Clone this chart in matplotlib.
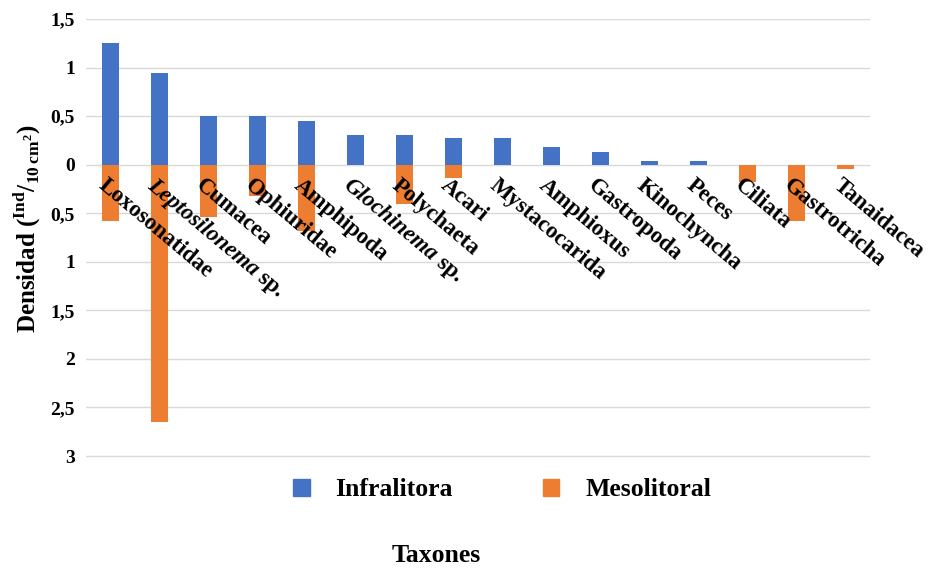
import numpy as np
import matplotlib.pyplot as plt
from matplotlib.ticker import FuncFormatter
from matplotlib.patches import Patch
import matplotlib.transforms as mtransforms

plt.rcParams['font.family'] = 'Liberation Serif'
plt.rcParams['font.weight'] = 'bold'
plt.rcParams['mathtext.fontset'] = 'custom'
plt.rcParams['mathtext.rm'] = 'Liberation Serif:weight=bold'
plt.rcParams['mathtext.bf'] = 'Liberation Serif:weight=bold'

taxa = ["Loxosonatidae", "Leptosilonema sp.", "Cumacea", "Ophiuridae",
        "Amphipoda", "Glochinema sp.", "Polychaeta", "Acari",
        "Mystacocarida", "Amphioxus", "Gastropoda", "Kinochyncha", "Peces",
        "Ciliata", "Gastrotricha", "Tanaidacea"]
infralitoral = [1.25, 0.94, 0.50, 0.50, 0.45, 0.31, 0.31, 0.27,
                0.27, 0.18, 0.13, 0.04, 0.04, 0.0, 0.0, 0.0]
mesolitoral = [0.58, 2.65, 0.54, 0.32, 0.68, 0.0, 0.40, 0.14,
               0.0, 0.0, 0.0, 0.0, 0.0, 0.18, 0.58, 0.04]

BLUE = '#4472C4'
ORANGE = '#ED7D31'
ANGLE = 40
LABEL_SIZE = 16.5

fig = plt.figure(figsize=(9.36, 5.70), dpi=100)
ax = fig.add_axes([86/936, 1 - 458/570, (870 - 86)/936, (458 - 19)/570])

x = np.arange(len(taxa))
ax.bar(x, infralitoral, width=0.33, color=BLUE, zorder=3)
ax.bar(x, -np.array(mesolitoral), width=0.33, color=ORANGE, zorder=3)

ax.set_xlim(-0.5, len(taxa) - 0.5)
ax.set_ylim(-3.02, 1.5)
ax.set_yticks(np.arange(-3.0, 1.51, 0.5))


def fmt(v, pos):
    return f"{abs(v):g}".replace('.', ',')


ax.yaxis.set_major_formatter(FuncFormatter(fmt))
ax.tick_params(axis='y', length=0, labelsize=14, pad=8)
ax.set_xticks([])
ax.grid(axis='y', color='#d9d9d9', linewidth=1.0, zorder=0)
for sp in ax.spines.values():
    sp.set_visible(False)

fig.canvas.draw()
renderer = fig.canvas.get_renderer()


def text_width(s, style):
    t = fig.text(0, 0, s, fontsize=LABEL_SIZE, fontweight='bold', fontstyle=style)
    w = t.get_window_extent(renderer).width
    t.remove()
    return w


# rotated category names hanging below the zero line; genus names in italics
cos_a, sin_a = np.cos(np.radians(ANGLE)), np.sin(np.radians(ANGLE))
for xi, name in zip(x, taxa):
    if name.endswith(' sp.'):
        parts = [(name[:-4], 'italic'), (' sp.', 'normal')]
    else:
        parts = [(name, 'normal')]
    d = 0.0
    for s, style in parts:
        tr = mtransforms.offset_copy(ax.transData, fig=fig, x=-3 + d * cos_a,
                                     y=-10 - d * sin_a, units='dots')
        ax.text(xi, 0, s, transform=tr, rotation=-ANGLE, rotation_mode='anchor',
                ha='left', va='top', fontsize=LABEL_SIZE, fontweight='bold',
                fontstyle=style, zorder=4)
        d += text_width(s, style)

fig.text(27/936, 1 - 229/570, r'Densidad $(^{\mathrm{Ind}}/_{\mathrm{10\,cm}^{2}})$',
         rotation=90, ha='center', va='center', fontsize=18, fontweight='bold')

handles = [Patch(color=BLUE), Patch(color=ORANGE)]
fig.legend(handles, ['Infralitora', 'Mesolitoral'], loc='center',
           bbox_to_anchor=(502/936, 1 - 490/570), ncol=2, frameon=False,
           fontsize=18.5, handlelength=0.65, handleheight=0.65,
           handletextpad=1.0, columnspacing=3.5)

fig.text(436/936, 1 - 555/570, 'Taxones', ha='center', va='center',
         fontsize=18.5, fontweight='bold')

fig.savefig('out.png', dpi=100)
